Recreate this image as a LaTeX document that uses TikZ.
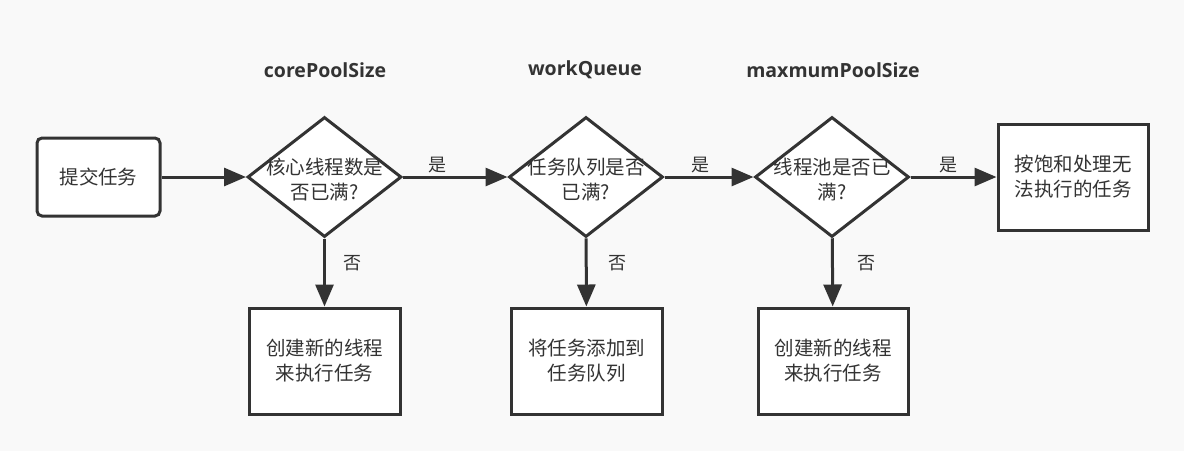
\documentclass[tikz,border=0pt]{standalone}
\usepackage{fontspec}
\setmainfont{Noto Sans CJK SC}
\newfontfamily\titlefont{Open Sans}
\usetikzlibrary{shapes.geometric,arrows.meta}
\definecolor{ink}{HTML}{333333}
\definecolor{bg}{HTML}{F9F9F9}
\tikzset{
  x=1pt,y=-1pt,
  every node/.style={text=ink,font=\fontsize{19.5}{25}\selectfont},
  proc/.style={draw=ink,line width=3pt,fill=white,inner sep=0,align=center},
  dec/.style={draw=ink,line width=3pt,fill=white,diamond,inner sep=0,minimum width=154pt,minimum height=120pt},
  flow/.style={draw=ink,line width=3pt,-{Triangle[length=22pt,width=18pt]}},
  ttl/.style={font=\titlefont\bfseries\fontsize{19.5}{22}\selectfont},
  lbl/.style={font=\fontsize{18}{20}\selectfont}
}
\begin{document}
\begin{tikzpicture}
\fill[bg] (0,0) rectangle (1184,451);
\useasboundingbox (0,0) rectangle (1184,451);
\node[proc,rounded corners=5pt,minimum width=123pt,minimum height=78pt] (start) at (98.5,177) {提交任务};
\node[dec] (d1) at (324.5,177) {};
\node[align=center] (d1t) at (324.5,180) {核心线程数是\\否已满?};
\node[dec] (d2) at (586,177) {};
\node[align=center] (d2t) at (586,180) {任务队列是否\\已满?};
\node[dec] (d3) at (832,177) {};
\node[align=center] (d3t) at (832,180) {线程池是否已\\满?};
\node[proc,minimum width=151pt,minimum height=106pt] (b1) at (324.5,361) {创建新的线程\\来执行任务};
\node[proc,minimum width=151pt,minimum height=106pt] (b2) at (586.5,361) {将任务添加到\\任务队列};
\node[proc,minimum width=150pt,minimum height=106pt] (b3) at (833,361) {创建新的线程\\来执行任务};
\node[proc,minimum width=150pt,minimum height=106pt] (end) at (1073,177) {按饱和处理无\\法执行的任务};
\node[ttl] (t1) at (325,70) {corePoolSize};
\node[ttl] (t2) at (585,70) {workQueue};
\node[ttl] (t3) at (833,70) {maxmumPoolSize};
\draw[flow] (start) -- (d1);
\draw[flow] (d1) -- (d2);
\draw[flow] (d2) -- (d3);
\draw[flow] (d3) -- (end);
\draw[flow] (d1) -- (b1);
\draw[flow] (d2) -- (b2);
\draw[flow] (d3) -- (b3);
\node[lbl] (y1) at (437,165) {是};
\node[lbl] (y2) at (700,165) {是};
\node[lbl] (y3) at (948,165) {是};
\node[lbl] (n1) at (352,263) {否};
\node[lbl] (n2) at (617,263) {否};
\node[lbl] (n3) at (866,263) {否};
\end{tikzpicture}
\end{document}
